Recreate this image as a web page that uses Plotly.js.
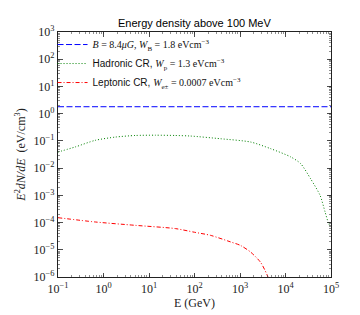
<!DOCTYPE html>
<html><head><meta charset="utf-8">
<script src="https://cdn.plot.ly/plotly-3.0.1.min.js"></script>
<style>body{margin:0;background:#fff}#c{width:360px;height:315px}</style>
</head><body><div id="c"></div>
<script>
// Magnetic field energy density (constant)
const bE = [0.1, 1e5];
const bW = [1.8, 1.8];
// Hadronic CR
const hE = [0.1, 0.24, 0.66, 1.82, 5.0, 13.8, 38, 81, 372, 1700, 4680, 12900, 21400, 35500, 57500, 74100, 89100, 100000];
const hW = [0.039, 0.060, 0.105, 0.138, 0.158, 0.162, 0.158, 0.151, 0.120, 0.091, 0.052, 0.026, 0.0148, 0.0041, 0.001, 2.45e-4, 9.1e-5, 6.8e-5];
// Leptonic CR
const lE = [0.1, 0.66, 5.0, 38, 100, 224, 617, 1020, 1700, 2820, 3890, 5000];
const lW = [1.51e-4, 1.05e-4, 7.9e-5, 6.0e-5, 4.4e-5, 3.4e-5, 1.95e-5, 1.45e-5, 8.3e-6, 3.5e-6, 1.26e-6, 4e-7];
// Tick labels
const xTickVals = [0.1, 1, 10, 100, 1000, 10000, 100000];
const xTickText = ['10<sup>−1</sup>','10<sup>0</sup>','10<sup>1</sup>','10<sup>2</sup>','10<sup>3</sup>','10<sup>4</sup>','10<sup>5</sup>'];
const yTickVals = [1e-6,1e-5,1e-4,1e-3,1e-2,1e-1,1,10,100,1000];
const yTickText = ['10<sup>−6</sup>','10<sup>−5</sup>','10<sup>−4</sup>','10<sup>−3</sup>','10<sup>−2</sup>','10<sup>−1</sup>','10<sup>0</sup>','10<sup>1</sup>','10<sup>2</sup>','10<sup>3</sup>'];

const S = '<span style="font-family:Liberation Serif">';
const traces = [
  {x: bE, y: bW, mode: 'lines', name: S + '<i>B</i> = 8.4<i>μG</i>, <i>W</i><sub>B</sub> = 1.8 eVcm<sup>−3</sup></span>',
   line: {color: '#0000ff', width: 1.0, dash: '6px,2.5px'}},
  {x: hE, y: hW, mode: 'lines', name: 'Hadronic CR, ' + S + '<i>W</i><sub>p</sub> = 1.3 eVcm<sup>−3</sup></span>',
   line: {color: '#008000', width: 1.0, dash: '1px,2px', shape: 'spline', smoothing: 0.7}},
  {x: lE, y: lW, mode: 'lines', name: 'Leptonic CR, ' + S + '<i>W</i><sub>e±</sub> = 0.0007 eVcm<sup>−3</sup></span>',
   line: {color: '#ff0000', width: 1.0, dash: '4px,2px,1px,2px', shape: 'spline', smoothing: 0.7}}
];
const axCommon = {
  type: 'log', showgrid: false, zeroline: false, showline: true, linecolor: '#222', linewidth: 1.2,
  mirror: 'allticks', ticks: 'inside', ticklen: 4.5, tickwidth: 0.8, tickcolor: '#222',
  tickfont: {family: 'Liberation Serif', size: 12, color: '#222'},
  minor: {ticks: 'inside', ticklen: 2.2, tickwidth: 0.6, tickcolor: '#444', dtick: 'D1', showgrid: false}
};
const layout = {
  width: 360, height: 315,
  margin: {l: 58, r: 29, t: 31.7, b: 38.3},
  paper_bgcolor: '#fff', plot_bgcolor: '#fff',
  showlegend: true,
  title: {text: 'Energy density above 100 MeV', font: {family: 'Liberation Sans', size: 11, color: '#000'},
          x: 0.54, xanchor: 'center', y: 0.925, yanchor: 'middle'},
  xaxis: Object.assign({}, axCommon, {range: [-1, 5], tickvals: xTickVals, ticktext: xTickText,
          title: {text: 'E (GeV)', font: {family: 'Liberation Serif', size: 12, color: '#222'}, standoff: 4}}),
  yaxis: Object.assign({}, axCommon, {range: [-6, 3], tickvals: yTickVals, ticktext: yTickText,
          title: {text: '<i>E</i><sup>2</sup><i>dN/dE</i>  (eV/cm<sup>3</sup>)', font: {family: 'Liberation Serif', size: 12, color: '#222'}, standoff: 5}}),
  legend: {x: -0.02, y: 1.008, xanchor: 'left', yanchor: 'top', bgcolor: 'rgba(0,0,0,0)', borderwidth: 0,
           font: {family: 'Liberation Sans', size: 10, color: '#111'}, tracegroupgap: 0, itemwidth: 30}
};
Plotly.newPlot('c', traces, layout, {displayModeBar: false, staticPlot: true});
</script></body></html>
